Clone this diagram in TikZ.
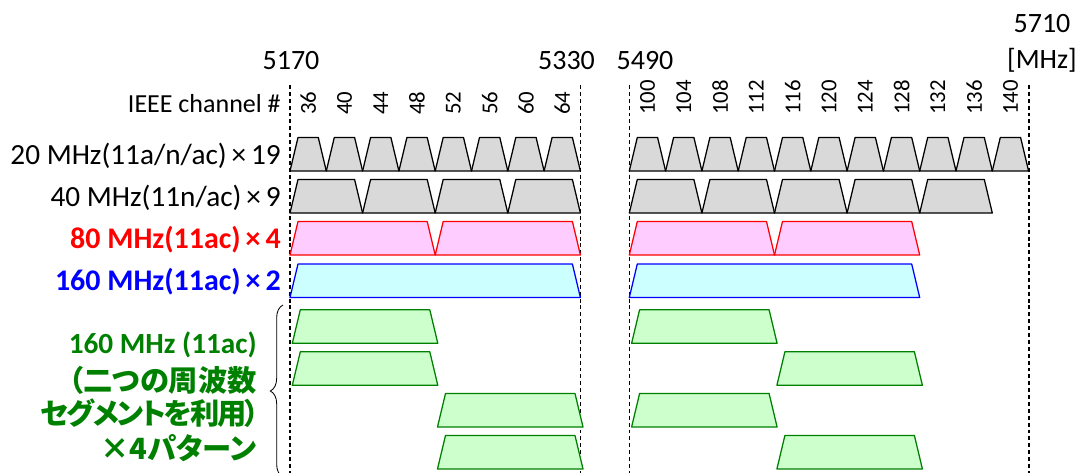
\documentclass[tikz,border=0pt]{standalone}
\usepackage{fontspec}
\setmainfont{Carlito}
\newfontfamily\cjk{Noto Sans CJK JP}[RawFeature=+palt]
\newfontfamily\cjknarrow{Noto Sans CJK JP}[RawFeature=+palt,LetterSpace=-6.5]
\usetikzlibrary{decorations.pathreplacing}

\definecolor{bandgray}{HTML}{D9D9D9}
\definecolor{bandpink}{HTML}{FFCCFF}
\definecolor{bandcyan}{HTML}{CCFFFF}
\definecolor{seglight}{HTML}{CCFFCC}
\definecolor{segdark}{HTML}{008000}

% trapezoid: bottom left corner, bottom y, width, style
\newcommand{\chanband}[4]{\draw[#4] (#1,#2) -- ++(8,-33.5) -- ++({#3-16},0) -- ++(8,33.5) -- cycle;}

\begin{document}
\begin{tikzpicture}[x=0.025cm,y=-0.025cm]
		\tikzset{
			band/.style={line width=0.9pt,line join=round},
			b20/.style={band,draw=black,fill=bandgray},
			b80/.style={band,draw=red,fill=bandpink},
			b160/.style={band,draw=blue,fill=bandcyan},
			bseg/.style={band,draw=segdark,fill=seglight},
			freqline/.style={line width=1.1pt,dash pattern=on 2.8pt off 2.1pt},
			freq/.style={inner sep=0pt,font=\fontsize{19.9}{24}\selectfont},
			rowlabel/.style={anchor=east,inner sep=0pt,font=\fontsize{20.8}{25}\selectfont},
			boldlabel/.style={rowlabel,font=\fontsize{21.3}{25}\selectfont\bfseries},
			seglabel/.style={rowlabel,text=segdark,font=\fontsize{20.8}{25}\selectfont\bfseries},
			chnum/.style={rotate=90,anchor=west,inner sep=0pt,font=\fontsize{16.2}{19}\selectfont}
		}
		\useasboundingbox (0,0) rectangle (1081,473);

		% frequency edges
		\foreach \x in {290,580.5,629.3,1029}
			\draw[freqline] (\x,85) -- (\x,473);
		\node[freq] (f5170) at (291,61) {5170};
		\node[freq] (f5330) at (566.5,61) {5330};
		\node[freq] (f5490) at (645,61) {5490};
		\node[freq] (f5710) at (1042,24) {5710};
		\node[freq] (fmhz) at (1042,60) {[MHz]};

		% channel numbers
		\node[rowlabel,font=\fontsize{18.5}{22}\selectfont] (ieee) at (281,104) {IEEE channel \#};
		\foreach \c [count=\i from 0] in {36,40,...,64}
			\node[chnum] (ch\c) at ({290+36.3*(\i+0.5)},115) {\c};
		\foreach \c [count=\i from 0] in {100,104,...,140}
			\node[chnum] (ch\c) at ({629.3+36.3*(\i+0.5)},115) {\c};

		% 20 MHz
		\foreach \i in {0,...,7}{
			\chanband{290+36.3*\i}{171}{36.3}{b20}
		}
		\foreach \i in {0,...,10}{
			\chanband{629.3+36.3*\i}{171}{36.3}{b20}
		}
		% 40 MHz
		\foreach \i in {0,...,3}{
			\chanband{290+72.6*\i}{213}{72.6}{b20}
		}
		\foreach \i in {0,...,4}{
			\chanband{629.3+72.6*\i}{213}{72.6}{b20}
		}
		% 80 MHz
		\foreach \i in {0,1}{
			\chanband{290+145.2*\i}{255}{145.2}{b80}
			\chanband{629.3+145.2*\i}{255}{145.2}{b80}
		}
		% 160 MHz
		\chanband{290}{297.5}{290.4}{b160}
		\chanband{629.3}{297.5}{290.4}{b160}
		% 80+80 MHz
		\foreach \l/\r/\y in {292.3/631.6/343.3, 292.3/776.9/385.3, 437.5/631.6/427, 437.5/776.9/469}{
			\chanband{\l}{\y}{145.5}{bseg}
			\chanband{\r}{\y}{145.5}{bseg}
		}

		% row labels
		\node[rowlabel] (r20) at (281,156) {20 MHz(11a/n/ac)\,×\,19};
		\node[rowlabel] (r40) at (281,198) {40 MHz(11n/ac)\,×\,9};
		\node[boldlabel,text=red] (r80) at (281,240) {80 MHz(11ac)\,×\,4};
		\node[boldlabel,text=blue] (r160) at (281,282) {160 MHz(11ac)\,×\,2};
		\node[seglabel] (seg1) at (257,345) {160 MHz (11ac)};
		\node[seglabel] (seg2) at (257,380) {\cjk （二つの周波数};
		\node[seglabel] (seg3) at (260,413) {\cjknarrow セグメントを利用）};
		\node[seglabel] (seg4) at (257,448) {\cjk ×4パターン};
		\draw[line width=0.6pt,decorate,decoration={brace,amplitude=9pt}] (283,477) -- (283,305);
	\end{tikzpicture}
\end{document}
